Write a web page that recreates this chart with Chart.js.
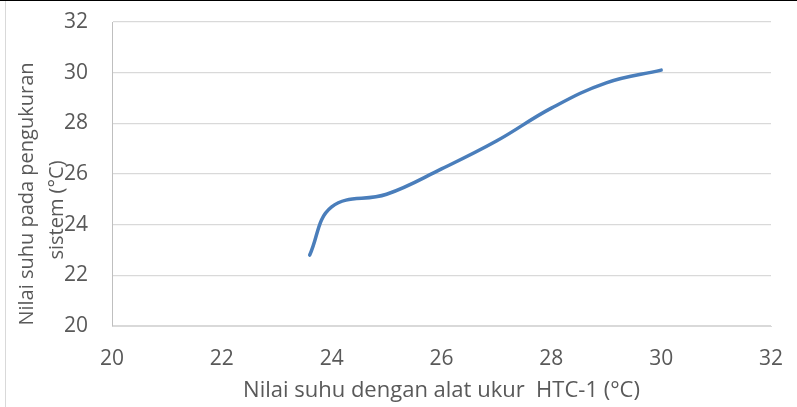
<!DOCTYPE html>
<html>
<head>
<meta charset="utf-8">
<script src="https://cdn.jsdelivr.net/npm/chart.js@4.4.0/dist/chart.umd.min.js"></script>
<style>
  body { margin: 0; background: #fff; }
  #wrap { position: relative; width: 797px; height: 407px; }
  #topline { position: absolute; left: 0; top: 0; width: 797px; height: 1px; background: #000; }
  #leftline { position: absolute; left: 5px; top: 1px; width: 1px; height: 406px; background: #d9d9d9; }
</style>
</head>
<body>
<div id="wrap">
  <canvas id="chart" width="797" height="407"></canvas>
  <div id="topline"></div>
  <div id="leftline"></div>
</div>
<script>
// data
const htcValues = [23.6, 24, 25, 26, 27, 28, 29, 30];
const systemValues = [22.8, 24.7, 25.2, 26.2, 27.3, 28.6, 29.6, 30.1];
const axisMin = 20;
const axisMax = 32;
const axisStep = 2;
const xTitle = 'Nilai suhu dengan alat ukur  HTC-1 (°C)';
const yTitleLines = ['Nilai suhu pada pengukuran', 'sistem (°C)'];

const textColor = '#595959';
const fontFamily = '"Open Sans", sans-serif';

// y axis title is drawn by hand, each line has its own centre like in the original
const yTitlePlugin = {
  id: 'yTitle',
  afterDraw(chart) {
    const ctx = chart.ctx;
    const centers = [[27, 194], [57, 210]];
    ctx.save();
    ctx.fillStyle = textColor;
    ctx.font = '20px ' + fontFamily;
    ctx.textAlign = 'center';
    ctx.textBaseline = 'middle';
    yTitleLines.forEach((line, i) => {
      ctx.save();
      ctx.translate(centers[i][0], centers[i][1]);
      ctx.rotate(-Math.PI / 2);
      ctx.fillText(line, 0, 0);
      ctx.restore();
    });
    ctx.restore();
  }
};

const points = htcValues.map((x, i) => ({ x: x, y: systemValues[i] }));

new Chart(document.getElementById('chart'), {
  type: 'scatter',
  data: {
    datasets: [{
      data: points,
      showLine: true,
      borderColor: '#4a7ebb',
      borderWidth: 3.5,
      borderCapStyle: 'round',
      pointRadius: 0,
      tension: 0.4
    }]
  },
  options: {
    responsive: false,
    animation: false,
    layout: { padding: { left: 0, right: 26, top: 22, bottom: 0 } },
    plugins: {
      legend: { display: false },
      tooltip: { enabled: false }
    },
    scales: {
      x: {
        type: 'linear',
        min: axisMin,
        max: axisMax,
        ticks: {
          stepSize: axisStep,
          color: textColor,
          font: { family: fontFamily, size: 21 },
          padding: 20,
          maxRotation: 0
        },
        grid: { display: false, drawTicks: false },
        border: { display: true, color: '#d9d9d9', width: 1 },
        title: {
          display: true,
          text: xTitle,
          color: textColor,
          font: { family: fontFamily, size: 22 },
          padding: { top: 0, bottom: 3 }
        },
        afterFit(scale) {
          scale.height = 81;
          scale.paddingLeft = 0;
          scale.paddingRight = 0;
        }
      },
      y: {
        min: axisMin,
        max: axisMax,
        ticks: {
          stepSize: axisStep,
          color: textColor,
          font: { family: fontFamily, size: 21 },
          padding: 24
        },
        grid: { color: '#d9d9d9', lineWidth: 1.3, drawTicks: false },
        border: { display: true, color: '#bfbfbf', width: 1 },
        afterFit(scale) {
          scale.width = 112;
          scale.paddingTop = 0;
          scale.paddingBottom = 0;
        }
      }
    }
  },
  plugins: [yTitlePlugin]
});
</script>
</body>
</html>
